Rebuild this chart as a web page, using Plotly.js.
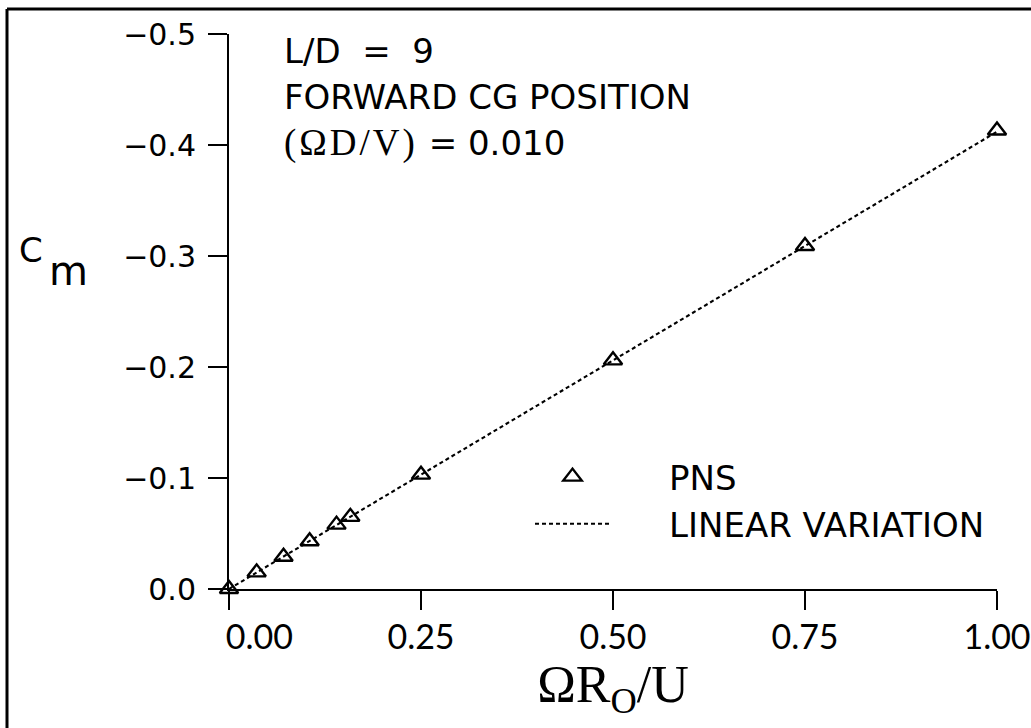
<!DOCTYPE html>
<html>
<head>
<meta charset="utf-8">
<script src="https://cdn.plot.ly/plotly-3.0.1.min.js"></script>
<style>
  html, body { margin: 0; padding: 0; background: #fff; }
  #chart { width: 1031px; height: 728px; }
</style>
</head>
<body>
<div id="chart"></div>
<script>
// ---- data ----
const pnsX = [0, 0.036, 0.071, 0.105, 0.140, 0.158, 0.25, 0.50, 0.75, 1.00];
const pnsY = [0, -0.015, -0.029, -0.043, -0.058, -0.065, -0.103, -0.206, -0.309, -0.413];
const linX = [0, 1.0];
const linY = [0, -0.412];
const xTicks = [0, 0.25, 0.5, 0.75, 1.0];
const xTickText = ["\u00a0\u00a0\u00a0\u00a0\u00a0\u00a0\u00a00.00", "0.25", "0.50", "0.75", "1.00"];
const yTicks = [-0.5, -0.4, -0.3, -0.2, -0.1, 0.0];
const yTickText = ["\u22120.5", "\u22120.4", "\u22120.3", "\u22120.2", "\u22120.1", "0.0"];
const seriesNames = ["PNS", "LINEAR VARIATION"];
const infoLines = [
  "L/D\u00a0\u00a0=\u00a0\u00a09",
  "FORWARD CG POSITION",
  "<span style=\"font-family:'Liberation Serif';font-size:37px;letter-spacing:3px\">(\u03A9D/V)</span> = 0.010"
];

const SANS = "DejaVu Sans";
const SERIF = "Liberation Serif";
const XTICKF = "Lato";

const W = 1031, H = 728;
const M = { l: 229, r: 34, t: 34, b: 139 };
const pw = W - M.l - M.r, ph = H - M.t - M.b;
const px = v => (v - M.l) / pw;        // pixel x -> paper
const py = v => (H - M.b - v) / ph;    // pixel y -> paper
const pad = "\u00a0\u00a0\u00a0\u00a0\u00a0";

const traces = [
  {
    x: pnsX, y: pnsY, name: pad + seriesNames[0], type: "scatter", mode: "markers",
    cliponaxis: false, legendgroup: "a",
    marker: { symbol: "triangle-up-open", size: 16, color: "#000", line: { width: 2.4, color: "#000" } }
  },
  {
    x: linX, y: linY, name: pad + seriesNames[1], type: "scatter", mode: "lines",
    cliponaxis: false, legendgroup: "b",
    line: { color: "#000", width: 2.1, dash: "4px,3px" }
  }
];

const infoY = [51, 97, 143];
const annotations = infoLines.map((t, i) => ({
  text: t, xref: "paper", yref: "paper", x: px(282), y: py(infoY[i]),
  xanchor: "left", yanchor: "middle", showarrow: false,
  font: { family: SANS, size: 34, color: "#000" }
}));
annotations.push({
  text: "C", xref: "paper", yref: "paper", x: px(17), y: py(250),
  xanchor: "left", yanchor: "middle", showarrow: false,
  font: { family: SANS, size: 34, color: "#000" }
});
annotations.push({
  text: "m", xref: "paper", yref: "paper", x: px(47), y: py(271),
  xanchor: "left", yanchor: "middle", showarrow: false,
  font: { family: SANS, size: 40, color: "#000" }
});

const layout = {
  width: W, height: H,
  margin: M,
  paper_bgcolor: "#fff", plot_bgcolor: "#fff",
  showlegend: true,
  legend: {
    x: px(530), y: py(448), xanchor: "left", yanchor: "top",
    bgcolor: "rgba(0,0,0,0)", borderwidth: 0,
    font: { family: SANS, size: 34, color: "#000" },
    itemwidth: 75, tracegroupgap: 18,
    traceorder: "normal"
  },
  xaxis: {
    range: [0, 1], showgrid: false, zeroline: false,
    showline: true, linecolor: "#000", linewidth: 2,
    ticks: "outside", ticklen: 19, tickwidth: 2, tickcolor: "#000",
    tickmode: "array", tickvals: xTicks, ticktext: xTickText,
    tickfont: { family: XTICKF, size: 34, color: "#000" },
    ticklabelstandoff: -2,
    title: { text: "\u03A9R<sub>O</sub>/U", font: { family: SERIF, size: 52, color: "#000" }, standoff: 3 },
    automargin: false
  },
  yaxis: {
    range: [0, -0.5], showgrid: false, zeroline: false,
    showline: true, linecolor: "#000", linewidth: 2,
    ticks: "outside", ticklen: 19, tickwidth: 2, tickcolor: "#000",
    tickmode: "array", tickvals: yTicks, ticktext: yTickText,
    tickfont: { family: SANS, size: 30, color: "#000" },
    ticklabelstandoff: 6,
    automargin: false
  },
  annotations: annotations,
  shapes: [
    { type: "line", xref: "paper", yref: "paper", x0: px(7), x1: px(1040), y0: py(9), y1: py(9), line: { color: "#000", width: 3 } },
    { type: "line", xref: "paper", yref: "paper", x0: px(7), x1: px(7), y0: py(9), y1: py(740), line: { color: "#000", width: 3 } }
  ]
};

Plotly.newPlot("chart", traces, layout, { displayModeBar: false, staticPlot: true });
</script>
</body>
</html>
